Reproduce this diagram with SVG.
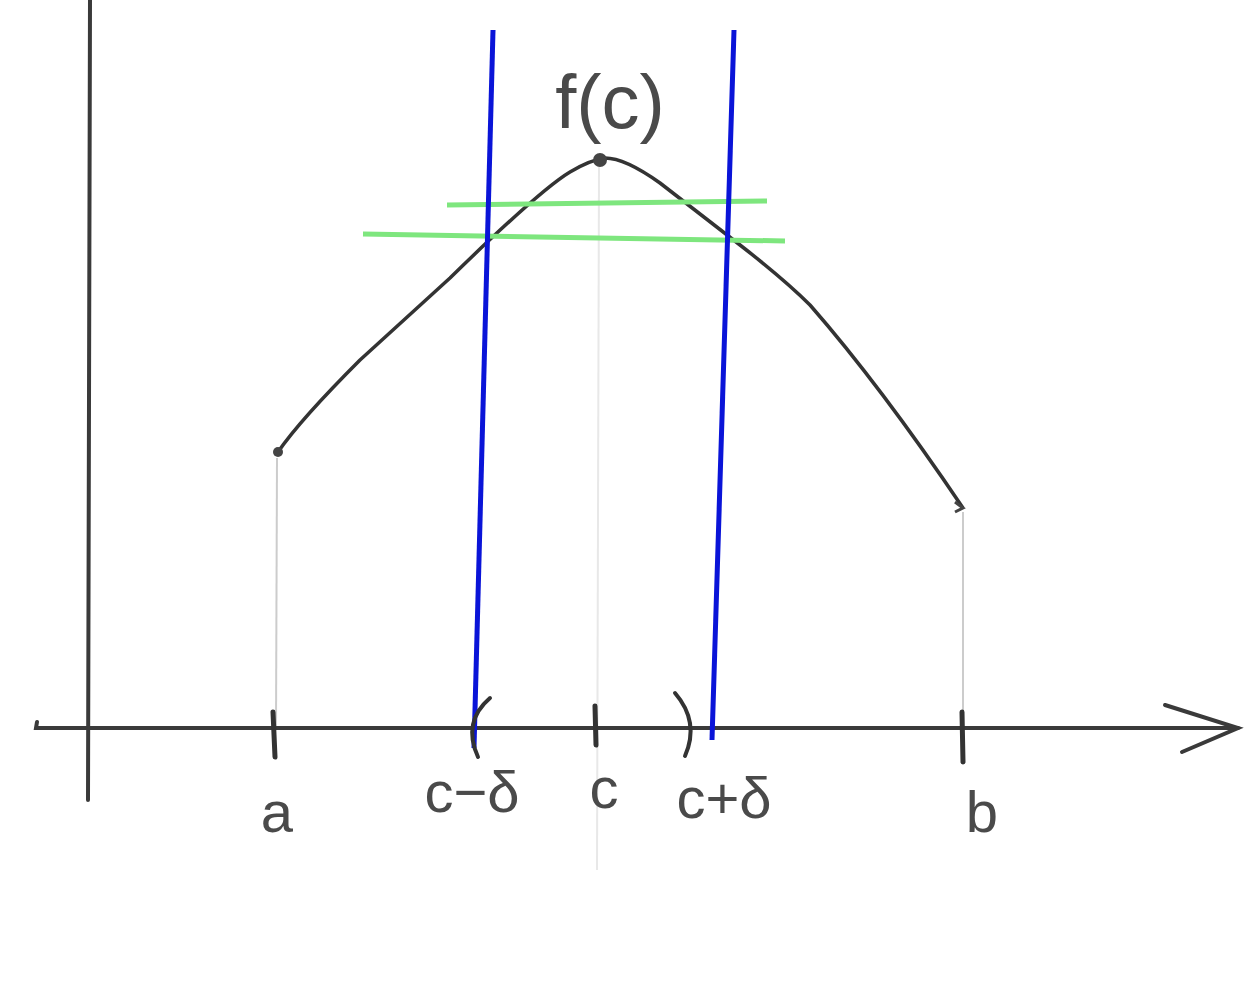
<svg xmlns="http://www.w3.org/2000/svg" width="1246" height="982" viewBox="0 0 1246 982">
<style>
.ax{stroke:#3a3a3a;stroke-width:4;fill:none;stroke-linecap:round}
.guide{stroke:#cccccc;stroke-width:2;fill:none}
.tick{stroke:#333;stroke-width:5;fill:none;stroke-linecap:round}
.blue{stroke:#0a14d8;stroke-width:5;fill:none;stroke-linecap:butt}
.green{stroke:#7ee67e;stroke-width:5;fill:none}
.lbl{font-family:"Liberation Sans","DejaVu Sans",sans-serif;fill:#4a4a4a;font-size:58px;text-anchor:middle}
</style>
<rect width="1246" height="982" fill="#ffffff"/>
<g id="guides">
<line class="guide" x1="277" y1="458" x2="276" y2="727"/>
<line class="guide" x1="599" y1="165" x2="597" y2="870" style="stroke:#e8e8e8"/>
<line class="guide" x1="963" y1="512" x2="963" y2="727"/>
</g>
<g id="axes">
<line class="ax" x1="90" y1="0" x2="88" y2="800"/>
<path class="ax" d="M37,722 L36,728 L1238,728"/>
<path class="ax" d="M1165,705 L1238,728 L1182,752"/>
</g>
<g id="curve">
<path d="M278,452 Q300,420 360,360 L450,278 Q540,190 570,172 Q590,160 605,158 Q625,158 660,183 L740,245 Q785,280 810,305 Q880,385 963,508" fill="none" stroke="#333" stroke-width="3.5" stroke-linejoin="round"/>
<circle cx="278" cy="452" r="5" fill="#444"/>
<circle cx="600" cy="160" r="7" fill="#444"/>
<path d="M955,502 L963,508 L955,512" fill="none" stroke="#444" stroke-width="3"/>
</g>
<g id="green-lines">
<line class="green" x1="447" y1="205" x2="767" y2="201"/>
<line class="green" x1="363" y1="234" x2="785" y2="241"/>
</g>
<g id="blue-lines">
<line class="blue" x1="493" y1="30" x2="474" y2="748"/>
<line class="blue" x1="734" y1="30" x2="712" y2="740"/>
</g>
<g id="ticks">
<line class="tick" x1="273" y1="712" x2="275" y2="757"/>
<line class="tick" x1="595" y1="706" x2="596" y2="745"/>
<line class="tick" x1="962" y1="712" x2="963" y2="762"/>
<path d="M490,698 Q462,722 478,757" fill="none" stroke="#333" stroke-width="4" stroke-linecap="round"/>
<path d="M675,693 Q700,722 685,756" fill="none" stroke="#333" stroke-width="4" stroke-linecap="round"/>
</g>
<g id="labels">
<text class="lbl" x="277" y="832">a</text>
<text class="lbl" x="472" y="812">c−δ</text>
<text class="lbl" x="604" y="808">c</text>
<text class="lbl" x="724" y="818">c+δ</text>
<text class="lbl" x="982" y="832">b</text>
<text class="lbl" x="610" y="128" style="font-size:76px">f(c)</text>
</g>
</svg>
